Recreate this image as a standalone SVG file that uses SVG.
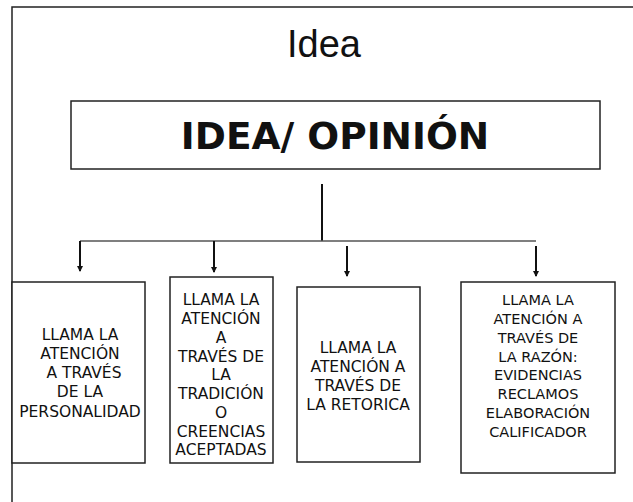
<svg xmlns="http://www.w3.org/2000/svg" width="633" height="502" viewBox="0 0 633 502">
<style>
.frame{fill:none;stroke:#222;stroke-width:1.5}
.box{fill:#fff;stroke:#222;stroke-width:1.5}
.ln{fill:none;stroke:#555;stroke-width:1.5}
.ar{fill:none;stroke:#111;stroke-width:2}
.t{font-family:"DejaVu Sans",Verdana,sans-serif;font-size:15.5px;fill:#111;text-anchor:middle}
.t4{font-size:14.5px}
.title{font-family:"Liberation Sans",Arial,sans-serif;font-size:38px;fill:#111;text-anchor:middle}
.head{font-family:"DejaVu Sans",Verdana,sans-serif;font-weight:bold;font-size:37.5px;fill:#111;text-anchor:middle}
</style>
<defs>
<marker id="ah" markerUnits="userSpaceOnUse" markerWidth="6" markerHeight="6" refX="5" refY="3" orient="auto">
<path d="M0,0 L6,3 L0,6 z" fill="#111"/>
</marker>
</defs>
<path class="frame" d="M12,502 V7 H633"/>
<text class="title" x="324" y="57">Idea</text>
<g id="idea">
<rect class="box" x="71" y="101" width="529" height="68"/>
<text class="head" x="335" y="149">IDEA/ OPINIÓN</text>
</g>
<g id="connectors">
<line class="ar" x1="322" y1="184" x2="322" y2="241"/>
<line class="ln" x1="80" y1="241" x2="536" y2="241"/>
<line class="ar" x1="80" y1="241" x2="80" y2="271" marker-end="url(#ah)"/>
<line class="ar" x1="214" y1="241" x2="214" y2="272" marker-end="url(#ah)"/>
<line class="ar" x1="347" y1="246" x2="347" y2="276" marker-end="url(#ah)"/>
<line class="ar" x1="536" y1="246" x2="536" y2="276" marker-end="url(#ah)"/>
</g>
<g id="box1">
<rect class="box" x="12" y="282" width="133" height="181"/>
<text class="t" x="80" y="340">LLAMA LA</text>
<text class="t" x="80" y="359">ATENCIÓN</text>
<text class="t" x="84" y="378">A  TRAVÉS</text>
<text class="t" x="80" y="397">DE LA</text>
<text class="t" x="80" y="417">PERSONALIDAD</text>
</g>
<g id="box2">
<rect class="box" x="170" y="277" width="103" height="186"/>
<text class="t" x="221" y="305">LLAMA LA</text>
<text class="t" x="221" y="324">ATENCIÓN</text>
<text class="t" x="221" y="343">A</text>
<text class="t" x="221" y="362">TRAVÉS DE</text>
<text class="t" x="221" y="380">LA</text>
<text class="t" x="221" y="399">TRADICIÓN</text>
<text class="t" x="221" y="418">O</text>
<text class="t" x="221" y="437">CREENCIAS</text>
<text class="t" x="221" y="455">ACEPTADAS</text>
</g>
<g id="box3">
<rect class="box" x="297" y="287" width="123" height="175"/>
<text class="t" x="358" y="353">LLAMA LA</text>
<text class="t" x="358" y="372">ATENCIÓN A</text>
<text class="t" x="358" y="391">TRAVÉS DE</text>
<text class="t" x="358" y="410">LA RETORICA</text>
</g>
<g id="box4">
<rect class="box" x="461" y="282" width="154" height="191"/>
<text class="t t4" x="538" y="305">LLAMA LA</text>
<text class="t t4" x="538" y="324">ATENCIÓN A</text>
<text class="t t4" x="538" y="343">TRAVÉS DE</text>
<text class="t t4" x="538" y="362">LA RAZÓN:</text>
<text class="t t4" x="538" y="380">EVIDENCIAS</text>
<text class="t t4" x="538" y="399">RECLAMOS</text>
<text class="t t4" x="538" y="418">ELABORACIÓN</text>
<text class="t t4" x="538" y="437">CALIFICADOR</text>
</g>
</svg>
